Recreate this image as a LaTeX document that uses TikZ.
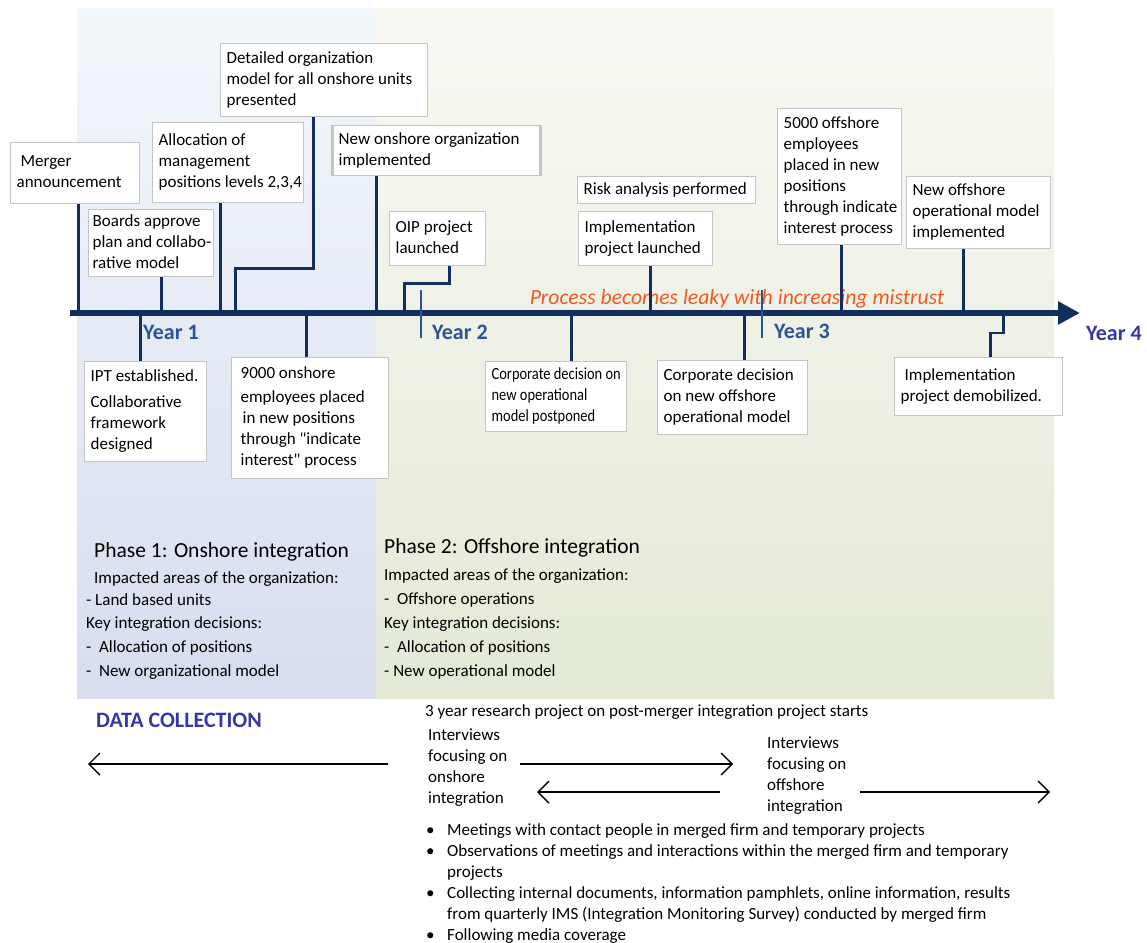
\documentclass[tikz,border=0pt]{standalone}
\usepackage{fontspec}
\setmainfont{Carlito}
\newfontfamily\qtfont{Carlito}
\newfontfamily\narrowfont[FakeStretch=0.85]{Carlito}
\usetikzlibrary{arrows.meta}

\definecolor{axisblue}{HTML}{112F5C}
\definecolor{yearblue}{HTML}{2A5595}
\definecolor{deepblue}{HTML}{3636A8}
\definecolor{boxgray}{HTML}{C4C4C4}
\definecolor{leakorange}{HTML}{F05A22}
\definecolor{ph1top}{HTML}{F2F7FB}
\definecolor{ph1bot}{HTML}{D7DDEE}
\definecolor{ph2top}{HTML}{F9F8F3}
\definecolor{ph2mid}{HTML}{EDEDDF}
\definecolor{ph2bot}{HTML}{E3E9D6}

% box text: fixed width, lines set by hand
\newcommand{\evlines}[2]{\makebox[#1][l]{\begin{tabular}{@{}l@{}}#2\end{tabular}}}

\tikzset{
  evbox/.style={draw=boxgray, line width=1.3pt, fill=white, anchor=north west,
    inner xsep=6pt, inner ysep=2pt, font=\fontsize{17}{21}\selectfont},
  stem/.style={draw=axisblue, line width=2.6pt},
  yeartick/.style={draw=yearblue, line width=1.4pt},
  yearlbl/.style={anchor=west, inner sep=0pt, text=yearblue, font=\bfseries\fontsize{22}{24}\selectfont},
  plain/.style={anchor=west, inner sep=0pt, font=\fontsize{17}{21}\selectfont},
  dcarrow/.style={draw=black, line width=1.4pt, -{Straight Barb[length=11pt,width=22pt]}},
}

\begin{document}
\begin{tikzpicture}[x=1pt,y=-1pt]
\useasboundingbox (0,0) rectangle (1147,942);
% phase backgrounds
\shade[top color=ph1top, bottom color=ph1bot] (77,9) rectangle (376,698);
\shade[top color=ph2top, middle color=ph2mid, bottom color=ph2bot] (376,9) rectangle (1054,698);

% time axis
\coordinate (ax0) at (70,313);
\coordinate (ax1) at (1080,313);
\node[anchor=center, inner sep=0pt, text=leakorange, font=\itshape\fontsize{21.7}{24}\selectfont] (leak) at (737,299) {Process becomes leaky with increasing mistrust};
\draw[draw=axisblue, line width=6pt, -{Triangle[length=22pt,width=22pt]}] (ax0) -- (ax1);

\node[yearlbl] (y1) at (143,332) {Year 1};
\node[yearlbl] (y2) at (432,332) {Year 2};
\node[yearlbl] (y3) at (774,331) {Year 3};
\node[yearlbl, text=deepblue] (y4) at (1086,333) {Year 4};
\draw[yeartick] ([xshift=-11pt,yshift=42pt]y2.west) -- ++(0,48);
\draw[yeartick] ([xshift=-12pt,yshift=41pt]y3.west) -- ++(0,48);

% events above the axis
\node[evbox, minimum height=61pt] (mer) at (10,142) {\evlines{117pt}{\hspace*{4pt}Merger\\announcement}};
\node[evbox, minimum height=63pt, inner xsep=4pt] (brd) at (88,209) {\evlines{117pt}{Boards approve\\plan and collabo-\\rative model}};
\node[evbox, minimum height=80pt] (alc) at (152,122) {\evlines{139pt}{Allocation of\\management\\positions levels 2,3,4}};
\node[evbox, minimum height=73pt] (det) at (220,43) {\evlines{195pt}{Detailed organization\\model for all onshore units\\presented}};
\node[evbox, minimum height=50pt] (nos) at (332,125) {\evlines{195pt}{New onshore organization\\implemented}};
\draw[boxgray, line width=3pt] (nos.north west) -- (nos.south west) (nos.north east) -- (nos.south east);
\node[evbox, minimum height=54pt] (oip) at (389,211) {\evlines{84pt}{OIP project\\launched}};
\node[evbox, minimum height=27pt] (risk) at (577,176) {\evlines{166pt}{Risk analysis performed}};
\node[evbox, minimum height=54pt] (impl) at (578,211) {\evlines{122pt}{Implementation\\project launched}};
\node[evbox, minimum height=136pt] (emp5) at (777,108) {\evlines{112pt}{5000 offshore\\employees\\placed in new\\positions\\through indicate\\interest process}};
\node[evbox, minimum height=72pt] (nof) at (906,176) {\evlines{132pt}{New offshore\\operational model\\implemented}};

% events below the axis
\node[evbox, minimum height=100pt] (ipt) at (84,361) {\evlines{110pt}{IPT established.\\[5pt]Collaborative\\framework\\designed}};
\node[evbox, minimum height=121pt, inner xsep=9pt] (emp9) at (231,357) {\evlines{139pt}{9000 onshore\\[3pt]employees placed\\\hspace*{2pt}in new positions\\through {\qtfont"}indicate\\interest{\qtfont"} process}};
\node[evbox, minimum height=70pt, font=\narrowfont\fontsize{17}{21}\selectfont] (cdp) at (485,361) {\evlines{129pt}{Corporate decision on\\new operational\\model postponed}};
\node[evbox, minimum height=74pt] (cdo) at (657,360) {\evlines{138pt}{Corporate decision\\on new offshore\\operational model}};
\node[evbox, minimum height=58pt] (dem) at (894,357) {\evlines{156pt}{\hspace*{4pt}Implementation\\project demobilized.}};

% stems
\draw[stem] ([xshift=3.5pt]mer.south) -- ([xshift=3.5pt]mer.south |- ax0);
\draw[stem] ([xshift=10.5pt]brd.south) -- ([xshift=10.5pt]brd.south |- ax0);
\draw[stem] ([xshift=-7.5pt]alc.south) -- ([xshift=-7.5pt]alc.south |- ax0);
\draw[stem] ([xshift=-10.5pt]det.south) -- ++(0,151) -| ([xshift=-88.5pt]det.south |- ax0);
\draw[stem] ([xshift=-59.5pt]nos.south) -- ([xshift=-59.5pt]nos.south |- ax0);
\draw[stem] ([xshift=12pt]oip.south) -- ++(0,17) -| ([xshift=-33pt]oip.south |- ax0);
\draw[stem] ([xshift=5pt]impl.south) -- ([xshift=5pt]impl.south |- ax0);
\draw[stem] ([xshift=2pt]emp5.south) -- ([xshift=2pt]emp5.south |- ax0);
\draw[stem] ([xshift=-15pt]nof.south) -- ([xshift=-15pt]nof.south |- ax0);
\draw[stem] ([xshift=-5pt]ipt.north) -- ([xshift=-5pt]ipt.north |- ax0);
\draw[stem] ([xshift=-3.5pt]emp9.north) -- ([xshift=-3.5pt]emp9.north |- ax0);
\draw[stem] ([xshift=15.5pt]cdp.north) -- ([xshift=15.5pt]cdp.north |- ax0);
\draw[stem] ([xshift=12pt]cdo.north) -- ([xshift=12pt]cdo.north |- ax0);
\draw[stem] ([xshift=25pt]dem.north |- ax0) -- ++(0,20) -| ([xshift=12pt]dem.north);

% phase descriptions
\node[plain, font=\fontsize{21.5}{24}\selectfont] (p1t) at (94,552) {Phase 1: Onshore integration};
\node[plain] (p1a) at (94,579) {Impacted areas of the organization:};
\node[plain] (p1b) at (86,600) {- Land based units};
\node[plain] (p1c) at (86,624) {Key integration decisions:};
\node[plain] (p1d) at (86,648) {-\ \ Allocation of positions};
\node[plain] (p1e) at (86,672) {-\ \ New organizational model};
\node[plain, font=\fontsize{21.5}{24}\selectfont] (p2t) at (384,548) {Phase 2: Offshore integration};
\node[plain] (p2a) at (384,576) {Impacted areas of the organization:};
\node[plain] (p2b) at (384,600) {-\ \ Offshore operations};
\node[plain] (p2c) at (384,624) {Key integration decisions:};
\node[plain] (p2d) at (384,648) {-\ \ Allocation of positions};
\node[plain] (p2e) at (384,672) {- New operational model};

% data collection
\node[plain, text=deepblue, font=\bfseries\fontsize{22}{24}\selectfont] (dc) at (96,720) {DATA COLLECTION};
\node[plain] (rp) at (425,712) {3 year research project on post-merger integration project starts};
\node[plain, anchor=north west, align=left] (ion) at (428,729) {Interviews\\focusing on\\onshore\\integration};
\node[plain, anchor=north west, align=left] (iof) at (767,737) {Interviews\\focusing on\\offshore\\integration};
\coordinate (dcl) at (88,764);
\coordinate (dcr1) at (733,764);
\coordinate (dcm) at (537,792);
\coordinate (dcr2) at (1050,792);
\draw[dcarrow] ([xshift=-40pt]ion.west |- dcl) -- (dcl);
\draw[dcarrow] ([xshift=12pt]ion.east |- dcr1) -- (dcr1);
\draw[dcarrow] ([xshift=-47pt]iof.west |- dcm) -- (dcm);
\draw[dcarrow] ([xshift=13pt]iof.east |- dcr2) -- (dcr2);
\node[plain, anchor=north west, align=left] (bul) at (426,823) {%
  \makebox[21pt][l]{\textbullet}Meetings with contact people in merged firm and temporary projects\\
  \makebox[21pt][l]{\textbullet}Observations of meetings and interactions within the merged firm and temporary\\
  \makebox[21pt][l]{}projects\\
  \makebox[21pt][l]{\textbullet}Collecting internal documents, information pamphlets, online information, results\\
  \makebox[21pt][l]{}from quarterly IMS (Integration Monitoring Survey) conducted by merged firm\\
  \makebox[21pt][l]{\textbullet}Following media coverage};
\end{tikzpicture}
\end{document}
